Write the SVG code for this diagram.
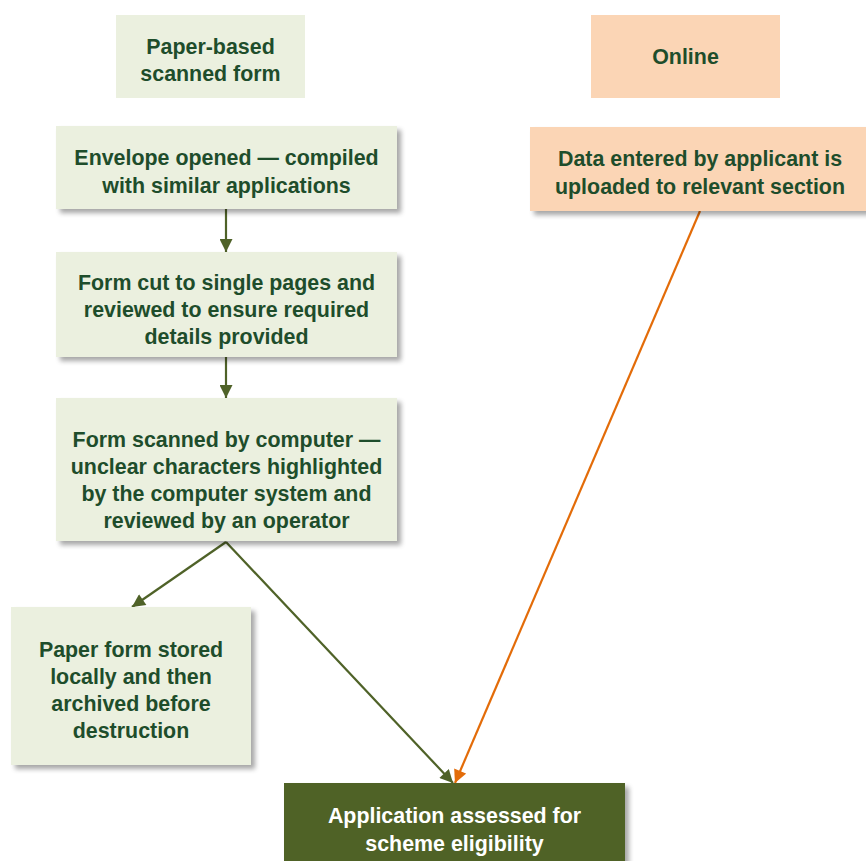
<svg xmlns="http://www.w3.org/2000/svg" width="866" height="861" viewBox="0 0 866 861">
<style>
.t{font-family:"Liberation Sans",Arial,sans-serif;font-weight:bold;font-size:21.4px;fill:#1E4D2B;text-anchor:middle}
.w{fill:#FFFFFF}
.g{fill:#EBF0DF}
.p{fill:#FBD5B5}
.d{fill:#4F6228}
.sh{filter:url(#shadow)}
.cg{stroke:#4F6228;stroke-width:2.2;fill:none;marker-end:url(#ag)}
.co{stroke:#E36C09;stroke-width:2.2;fill:none;marker-end:url(#ao)}
</style>
<defs>
<filter id="shadow" x="-10%" y="-10%" width="130%" height="130%">
<feGaussianBlur in="SourceAlpha" stdDeviation="2.5"/>
<feOffset dx="4" dy="4" result="b"/>
<feComponentTransfer><feFuncA type="linear" slope="0.35"/></feComponentTransfer>
<feMerge><feMergeNode/><feMergeNode in="SourceGraphic"/></feMerge>
</filter>
<marker id="ag" viewBox="0 0 10 10" refX="10" refY="5" markerWidth="14" markerHeight="13" markerUnits="userSpaceOnUse" orient="auto">
<path d="M0,0 L10,5 L0,10 z" fill="#4F6228"/>
</marker>
<marker id="ao" viewBox="0 0 10 10" refX="10" refY="5" markerWidth="14" markerHeight="13" markerUnits="userSpaceOnUse" orient="auto">
<path d="M0,0 L10,5 L0,10 z" fill="#E36C09"/>
</marker>
</defs>
<rect width="866" height="861" fill="#FFFFFF"/>
<g id="connectors">
<line class="cg" x1="226" y1="209" x2="226" y2="252"/>
<line class="cg" x1="226" y1="357" x2="226" y2="398"/>
<line class="cg" x1="226" y1="542" x2="132" y2="607"/>
<line class="cg" x1="226" y1="542" x2="453" y2="783"/>
<line class="co" x1="700" y1="211" x2="455" y2="783"/>
</g>
<g id="paper-header">
<rect class="g" x="116" y="15" width="189" height="83"/>
<text class="t" x="210.5" y="54">Paper-based</text>
<text class="t" x="210.5" y="81">scanned form</text>
</g>
<g id="online-header">
<rect class="p" x="591" y="15" width="189" height="83"/>
<text class="t" x="685.5" y="64">Online</text>
</g>
<g id="envelope">
<rect class="g sh" x="56" y="126" width="341" height="83"/>
<text class="t" x="226.5" y="165">Envelope opened — compiled</text>
<text class="t" x="226.5" y="193">with similar applications</text>
</g>
<g id="form-cut">
<rect class="g sh" x="56" y="252" width="341" height="105"/>
<text class="t" x="226.5" y="290">Form cut to single pages and</text>
<text class="t" x="226.5" y="317">reviewed to ensure required</text>
<text class="t" x="226.5" y="344">details provided</text>
</g>
<g id="form-scanned">
<rect class="g sh" x="56" y="398" width="341" height="143"/>
<text class="t" x="226.5" y="447">Form scanned by computer —</text>
<text class="t" x="226.5" y="474">unclear characters highlighted</text>
<text class="t" x="226.5" y="501">by the computer system and</text>
<text class="t" x="226.5" y="528">reviewed by an operator</text>
</g>
<g id="paper-stored">
<rect class="g sh" x="11" y="607" width="240" height="158"/>
<text class="t" x="131" y="657">Paper form stored</text>
<text class="t" x="131" y="684">locally and then</text>
<text class="t" x="131" y="711">archived before</text>
<text class="t" x="131" y="738">destruction</text>
</g>
<g id="data-entered">
<rect class="p sh" x="530" y="127" width="340" height="84"/>
<text class="t" x="700" y="166">Data entered by applicant is</text>
<text class="t" x="700" y="194">uploaded to relevant section</text>
</g>
<g id="assessed">
<rect class="d sh" x="284" y="783" width="341" height="90"/>
<text class="t w" x="454.5" y="823">Application assessed for</text>
<text class="t w" x="454.5" y="851">scheme eligibility</text>
</g>
</svg>
